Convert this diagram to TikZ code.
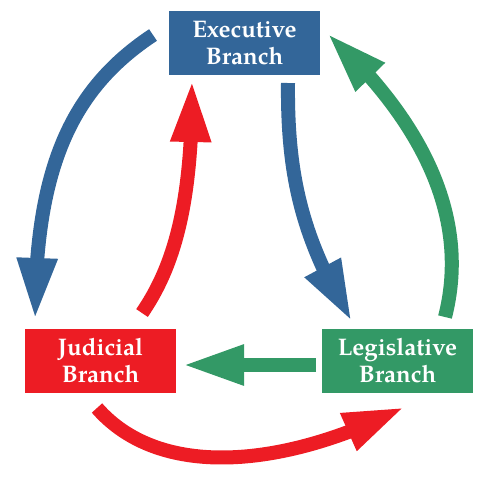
\documentclass[tikz,border=0pt]{standalone}
\usepackage{fontspec}
\setmainfont{texgyrepagella-regular.otf}[BoldFont=texgyrepagella-bold.otf]
\usetikzlibrary{arrows.meta,bending}
\definecolor{eblue}{RGB}{51,102,153}
\definecolor{jred}{RGB}{237,28,36}
\definecolor{lgreen}{RGB}{51,153,102}
\tikzset{
  branch/.style={minimum width=151pt,minimum height=64pt,inner sep=0pt,
    text=white,align=center,font=\bfseries\fontsize{24}{27}\selectfont},
  bigarrow/.style={line width=14pt,-{Triangle[length=62pt,width=37pt,flex]}},
}
\begin{document}
\begin{tikzpicture}[x=1pt,y=-1pt]
\useasboundingbox (0,0) rectangle (484,480);
\node[branch,fill=eblue] (exec) at (244.5,43) {Executive\\Branch};
\node[branch,fill=jred] (jud) at (100.5,361) {Judicial\\Branch};
\node[branch,fill=lgreen] (leg) at (397.5,361) {Legislative\\Branch};
% arrow ends
\coordinate (e1) at (153,35);
\coordinate (j1) at (35,320);
\coordinate (j2) at (142,313);
\coordinate (e2) at (192,80);
\coordinate (e3) at (288,83);
\coordinate (l1) at (352,322);
\coordinate (l2) at (445,317);
\coordinate (e4) at (327,33);
\coordinate (l3) at (316,365);
\coordinate (j3) at (182,365);
\coordinate (j4) at (97,408);
\coordinate (l4) at (405,407);
\draw[bigarrow,eblue] (e1) .. controls (70,90) and (35,170) .. (j1);
\draw[bigarrow,jred] (j2) .. controls (175,265) and (193,200) .. (e2);
\draw[bigarrow,eblue] (e3) .. controls (287,180) and (304,242) .. (l1);
\draw[bigarrow,lgreen] (l2) .. controls (475,200) and (400,100) .. (e4);
\draw[bigarrow,lgreen] (l3) -- (j3);
\draw[bigarrow,jred] (j4) .. controls (160,480) and (285,468) .. (l4);
\end{tikzpicture}
\end{document}
